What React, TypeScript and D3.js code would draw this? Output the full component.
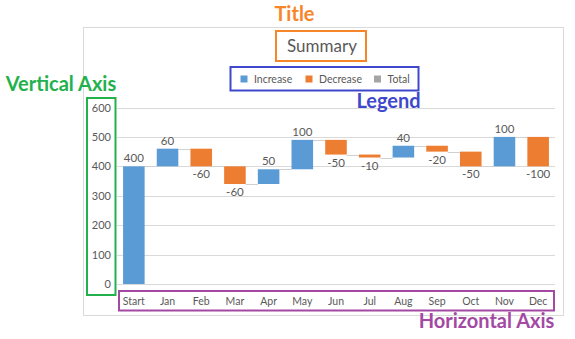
import React from 'react'
import * as d3 from 'd3'

const categories = ['Start', 'Jan', 'Feb', 'Mar', 'Apr', 'May', 'Jun', 'Jul', 'Aug', 'Sep', 'Oct', 'Nov', 'Dec']
const changes = [400, 60, -60, -60, 50, 100, -50, -10, 40, -20, -50, 100, -100]
const yTicks = [0, 100, 200, 300, 400, 500, 600]
const legendItems = ['Increase', 'Decrease', 'Total']

const W = 575
const H = 339
const FONT = 'Lato, "Open Sans", sans-serif'
const TEXT = '#595959'
const COLORS: Record<string, string> = { Increase: '#5B9BD5', Decrease: '#ED7D31', Total: '#A5A5A5' }

const App: React.FC = () => {
  const x = d3.scaleBand<string>().domain(categories).range([117, 555]).paddingInner(0.36).paddingOuter(0.18)
  const y = d3.scaleLinear().domain([0, 600]).range([284, 107.5])

  const ends = d3.cumsum(changes)
  const bars = categories.map((c, i) => {
    const start = i === 0 ? 0 : ends[i - 1]
    const end = ends[i]
    return { c, start, end, value: changes[i], kind: changes[i] >= 0 ? 'Increase' : 'Decrease' }
  })

  const bw = x.bandwidth()

  // legend layout
  const legendX = [240.5, 305.5, 374]

  return (
    <svg width={W} height={H} style={{ position: 'absolute', left: 0, top: 0, background: '#fff' }} fontFamily={FONT}>
      {/* chart frame */}
      <rect x={83.5} y={27.5} width={480} height={288} fill="#fff" stroke="#D9D9D9" />

      {/* gridlines */}
      {yTicks.map(t => (
        <line key={t} x1={117} x2={555} y1={Math.round(y(t)) + 0.5} y2={Math.round(y(t)) + 0.5} stroke="#D9D9D9" />
      ))}

      {/* y tick labels */}
      {yTicks.map(t => (
        <text key={t} x={111} y={y(t) + 4} textAnchor="end" fontSize={11} fill={TEXT}>{t}</text>
      ))}

      {/* connectors */}
      {bars.slice(0, -1).map((b, i) => (
        <line key={'c' + i}
          x1={x(b.c)! + bw} x2={x(categories[i + 1])!}
          y1={Math.round(y(b.end)) + 0.5} y2={Math.round(y(b.end)) + 0.5}
          stroke="#D0D0D0" strokeWidth={1} />
      ))}

      {/* bars */}
      {bars.map(b => {
        const top = y(Math.max(b.start, b.end))
        const bottom = y(Math.min(b.start, b.end))
        return (
          <rect key={b.c} x={x(b.c)} y={top} width={bw} height={Math.max(1.5, bottom - top)} fill={COLORS[b.kind]} />
        )
      })}

      {/* value labels */}
      {bars.map(b => {
        const cx = x(b.c)! + bw / 2
        const ly = b.value >= 0 ? y(b.end) - 4 : y(b.end) + 12
        return (
          <text key={'v' + b.c} x={cx} y={ly} textAnchor="middle" fontSize={11.5} fill={TEXT}>{b.value}</text>
        )
      })}

      {/* category labels */}
      {categories.map(c => (
        <text key={'x' + c} x={x(c)! + bw / 2} y={305} textAnchor="middle" fontSize={10.5} fill={TEXT}>{c}</text>
      ))}

      {/* title */}
      <text x={322} y={52} textAnchor="middle" fontSize={17} fill={TEXT}>Summary</text>

      {/* legend */}
      {legendItems.map((k, i) => (
        <g key={k}>
          <rect x={legendX[i]} y={75.5} width={7} height={7} fill={COLORS[k]} />
          <text x={legendX[i] + 13.5} y={82.5} fontSize={10.5} fill={TEXT}>{k}</text>
        </g>
      ))}

      {/* annotation boxes */}
      <rect x={276} y={31} width={90} height={30} fill="none" stroke="#F7862A" strokeWidth={2} />
      <rect x={230.5} y={67} width={188} height={23.5} fill="none" stroke="#3F48CC" strokeWidth={2} />
      <rect x={87} y={98} width={28.5} height={197} fill="none" stroke="#22B14C" strokeWidth={2} />
      <rect x={119} y={291} width={435} height={19.5} fill="none" stroke="#A349A4" strokeWidth={2} />

      {/* annotation labels */}
      <text x={294.5} y={21} textAnchor="middle" fontSize={20} fontWeight="bold" fill="#F7862A">Title</text>
      <text x={388.5} y={107.5} textAnchor="middle" fontSize={20} fontWeight="bold" fill="#3F48CC">Legend</text>
      <text x={61} y={90.5} textAnchor="middle" fontSize={20} fontWeight="bold" fill="#22B14C">Vertical Axis</text>
      <text x={486.5} y={327.5} textAnchor="middle" fontSize={20} fontWeight="bold" fill="#A349A4">Horizontal Axis</text>
    </svg>
  )
}

export default App
